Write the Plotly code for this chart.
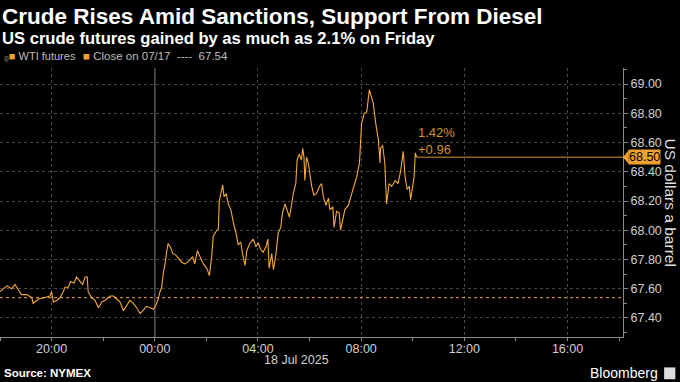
import plotly.graph_objects as go

# ---- data ----
times_jul17 = ["18:00","18:08","18:16","18:27","18:35","18:43","18:50","19:02","19:14","19:17",
               "19:29","19:45","19:56","20:00","20:04","20:12","20:20","20:27","20:31","20:39",
               "20:44","20:52","20:58","21:06","21:12","21:18","21:23","21:25","21:33","21:41",
               "21:49","21:57","22:04","22:16","22:24","22:31","22:39","22:47","22:55","23:02",
               "23:10","23:18","23:26","23:33","23:41","23:49","23:57"]
prices_jul17 = [67.58,67.60,67.62,67.60,67.63,67.59,67.56,67.56,67.54,67.50,
                67.53,67.54,67.55,67.58,67.51,67.52,67.54,67.58,67.61,67.61,
                67.65,67.64,67.68,67.65,67.63,67.68,67.68,67.58,67.54,67.52,
                67.47,67.51,67.52,67.55,67.55,67.53,67.51,67.45,67.49,67.52,
                67.50,67.47,67.43,67.45,67.48,67.47,67.46]
times_jul18 = ["00:03","00:08","00:12","00:16","00:20","00:24","00:28","00:31","00:37","00:42",
               "00:49","00:55","01:03","01:10","01:16","01:22","01:28","01:33","01:39","01:45",
               "01:53","02:01","02:07","02:12","02:16","02:22","02:28","02:30","02:33","02:38",
               "02:41","02:46","02:51","02:57","03:03","03:09","03:14","03:20","03:24","03:30",
               "03:34","03:41","03:49","03:55","04:01","04:06","04:12","04:19","04:23","04:26",
               "04:32","04:36","04:42","04:47","04:53","04:57","05:03","05:08","05:13","05:18",
               "05:22","05:28","05:31","05:36","05:41","05:44","05:47","05:49","05:53","05:57",
               "05:59","06:05","06:10","06:16","06:23","06:28","06:32","06:38","06:44","06:47",
               "06:54","06:57","07:03","07:09","07:12","07:18","07:22","07:30","07:38","07:43",
               "07:50","07:56","08:01","08:07","08:13","08:19","08:24","08:28","08:34","08:40",
               "08:44","08:45","08:50","08:55","08:59","09:05","09:11","09:19","09:26","09:32",
               "09:38","09:42","09:47","09:52","09:55","10:00","10:03","10:06","10:09"]
prices_jul18 = [67.49,67.53,67.58,67.61,67.71,67.77,67.86,67.91,67.88,67.84,
                67.83,67.81,67.78,67.77,67.78,67.80,67.82,67.77,67.86,67.82,
                67.77,67.74,67.69,67.81,67.96,67.99,68.01,68.20,68.25,68.31,
                68.23,68.25,68.18,68.14,68.05,67.98,67.90,67.92,67.84,67.76,
                67.86,67.91,67.94,67.89,67.91,67.87,67.85,67.89,67.94,67.74,
                67.84,67.73,67.84,67.98,68.02,68.12,68.18,68.14,68.09,68.17,
                68.25,68.32,68.48,68.52,68.48,68.56,68.50,68.34,68.50,68.46,
                68.41,68.30,68.24,68.25,68.30,68.32,68.23,68.17,68.22,68.14,
                68.16,68.02,68.13,68.12,68.00,68.09,68.14,68.17,68.25,68.30,
                68.37,68.46,68.73,68.80,68.81,68.96,68.90,68.87,68.73,68.62,
                68.46,68.56,68.58,68.46,68.18,68.32,68.30,68.34,68.32,68.41,
                68.54,68.37,68.28,68.30,68.21,68.30,68.36,68.53,68.50]
prev_close = 67.54
prev_close_label = "Close on 07/17"
x_range = ["2025-07-17 18:00", "2025-07-18 18:09"]
y_range = [67.27, 69.11]

times = ["2025-07-17 " + t for t in times_jul17] + ["2025-07-18 " + t for t in times_jul18]
prices = prices_jul17 + prices_jul18
last_t, last_p = times[-1], prices[-1]
chg = last_p - prev_close
pct = chg / prev_close * 100

LINE = "#f5a73f"
ORANGE = "#f0a030"
DARKOR = "#d48f2c"
GRID = "#474747"
AXIS = "#8a8a8a"
TXT = "#cfcfcf"
FONT = "Liberation Sans"

fig = go.Figure()
# previous close (dotted)
fig.add_trace(go.Scatter(x=x_range, y=[prev_close, prev_close], mode="lines",
                         line=dict(color="#c8882a", width=1.2, dash="dot"), hoverinfo="skip"))
# last price line
fig.add_trace(go.Scatter(x=[last_t, x_range[1]], y=[last_p, last_p], mode="lines",
                         line=dict(color="#d8952c", width=1), hoverinfo="skip"))
# WTI
fig.add_trace(go.Scatter(x=times, y=prices, mode="lines",
                         line=dict(color=LINE, width=1.1), hoverinfo="skip"))

# day boundary
fig.add_shape(type="line", xref="x", yref="paper", x0="2025-07-18 00:00", x1="2025-07-18 00:00",
              y0=0, y1=1, line=dict(color="#5a5a5a", width=1.5), layer="below")

ann = []
ann.append(dict(xref="paper", yref="paper", x=0, y=1, xanchor="left", yanchor="middle", yshift=52,
                text="<b>Crude Rises Amid Sanctions, Support From Diesel</b>", showarrow=False,
                font=dict(family=FONT, size=22.5, color="#ffffff")))
ann.append(dict(xref="paper", yref="paper", x=0, y=1, xanchor="left", yanchor="middle", yshift=30,
                text="<b>US crude futures gained by as much as 2.1% on Friday</b>", showarrow=False,
                font=dict(family=FONT, size=16.6, color="#ffffff")))
ann.append(dict(xref="paper", yref="paper", x=0.003, y=1, xanchor="left", yanchor="middle", yshift=12,
                text="<span style='color:#777'>ᵩ</span><span style='color:%s'>■</span> WTI futures" % ORANGE,
                showarrow=False, font=dict(family=FONT, size=11, color="#bdbdbd")))
ann.append(dict(xref="paper", yref="paper", x=0.13, y=1, xanchor="left", yanchor="middle", yshift=12,
                text="<span style='color:%s'>■</span> %s&nbsp;&nbsp;----&nbsp;&nbsp;%.2f" % (ORANGE, prev_close_label, prev_close),
                showarrow=False, font=dict(family=FONT, size=11.5, color="#bdbdbd")))
# change labels
ann.append(dict(x=last_t, y=last_p, xanchor="left", yanchor="bottom", yshift=-2, xshift=-1,
                text="%.2f%%<br>%+.2f" % (pct, chg), align="left", showarrow=False,
                font=dict(family=FONT, size=13, color=DARKOR)))
# price tag
ann.append(dict(xref="paper", x=1, y=last_p, xanchor="left", yanchor="middle", xshift=5,
                text="%.2f" % last_p, showarrow=False, bgcolor=ORANGE, borderpad=0,
                font=dict(family=FONT, size=12.5, color="#000000")))
# y axis title
ann.append(dict(xref="paper", yref="paper", x=1, y=0.5, xanchor="center", yanchor="middle", xshift=47,
                text="US dollars a barrel", textangle=90, showarrow=False,
                font=dict(family=FONT, size=15.5, color="#dddddd")))
# date label
ann.append(dict(xref="paper", yref="paper", x=0.4767, y=0, xanchor="center", yanchor="middle", yshift=-23,
                text="18 Jul 2025", showarrow=False, font=dict(family=FONT, size=12.5, color=TXT)))
# source
ann.append(dict(xref="paper", yref="paper", x=0.003, y=0, xanchor="left", yanchor="middle", yshift=-36,
                text="<b>Source: NYMEX</b>", showarrow=False, font=dict(family=FONT, size=11.5, color="#ffffff")))
ann.append(dict(xref="paper", yref="paper", x=1.06, y=0, xanchor="right", yanchor="middle", yshift=-36,
                text="Bloomberg", showarrow=False, font=dict(family=FONT, size=14, color="#ffffff")))

# tag pointer & logo square
fig.add_shape(type="path", xref="paper", yref="y",
              path="M 1.0,%f L 1.009,%f L 1.009,%f Z" % (last_p, last_p + 0.047, last_p - 0.047),
              fillcolor=ORANGE, line=dict(width=0))
fig.add_shape(type="rect", xref="paper", yref="paper", x0=1.066, x1=1.084, y0=-0.157, y1=-0.113,
              fillcolor="#dddddd", line=dict(width=0))

fig.update_layout(
    width=680, height=382,
    margin=dict(l=0, r=57, t=68, b=45),
    paper_bgcolor="#000000", plot_bgcolor="#000000",
    showlegend=False,
    annotations=ann,
    font=dict(family=FONT, color=TXT),
)
fig.update_xaxes(range=x_range, type="date", tick0="2025-07-17 20:00", dtick=4 * 3600 * 1000,
                 tickformat="%H:%M", showgrid=True, gridcolor=GRID, griddash="dot", gridwidth=1,
                 showline=True, linecolor=AXIS, linewidth=1, ticks="outside", ticklen=3, tickcolor=AXIS,
                 ticklabelstandoff=-3,
                 tickfont=dict(family=FONT, size=12.5, color=TXT),
                 minor=dict(dtick=2 * 3600 * 1000, ticks="outside", ticklen=3, tickcolor=AXIS, showgrid=False),
                 zeroline=False, fixedrange=True)
fig.update_yaxes(range=y_range, side="right", tick0=67.4, dtick=0.2, tickformat=".2f",
                 showgrid=True, gridcolor=GRID, griddash="dot", gridwidth=1,
                 showline=True, linecolor=AXIS, linewidth=1, ticks="outside", ticklen=4, tickcolor=AXIS,
                 tickfont=dict(family=FONT, size=12.5, color=TXT),
                 minor=dict(dtick=0.1, ticks="outside", ticklen=3, tickcolor=AXIS, showgrid=False),
                 zeroline=False, fixedrange=True)

fig.write_html("out.html", config={"displayModeBar": False},
               post_script="document.body.style.margin='0';document.body.style.background='#000';")
